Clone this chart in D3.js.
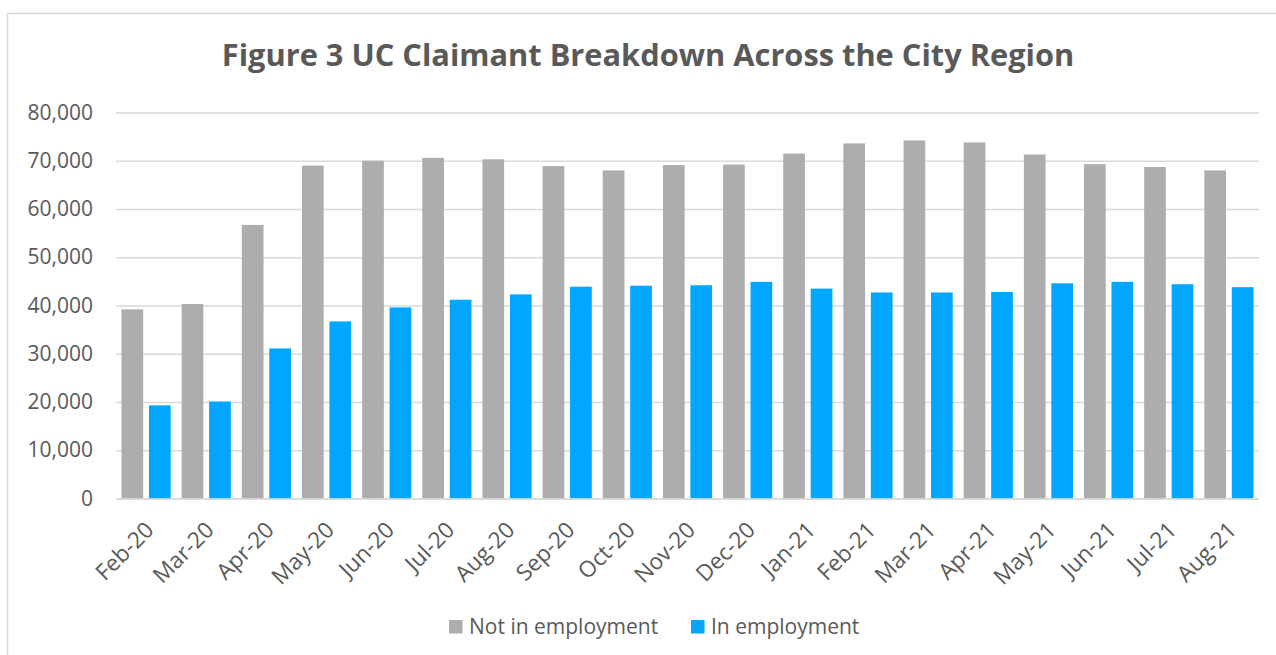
<!DOCTYPE html>
<html>
<head>
<meta charset="utf-8">
<script src="https://cdn.jsdelivr.net/npm/d3@7/dist/d3.min.js"></script>
<style>
    html, body { margin: 0; padding: 0; background: #fff; }
    svg { display: block; font-family: "Open Sans", sans-serif; }
</style>
</head>
<body>
<div id="chart"></div>
<script>
// months on the x axis
var months = ["Feb-20", "Mar-20", "Apr-20", "May-20", "Jun-20", "Jul-20", "Aug-20",
    "Sep-20", "Oct-20", "Nov-20", "Dec-20", "Jan-21", "Feb-21", "Mar-21", "Apr-21",
    "May-21", "Jun-21", "Jul-21", "Aug-21"];

// claimants not in employment
var notInEmployment = [39200, 40300, 56700, 69000, 70000, 70600, 70300,
    68900, 68000, 69100, 69200, 71500, 73600, 74200, 73800,
    71300, 69300, 68700, 68000];

// claimants in employment
var inEmployment = [19300, 20100, 31100, 36700, 39600, 41200, 42300,
    43900, 44100, 44200, 44900, 43500, 42700, 42700, 42800,
    44600, 44900, 44400, 43800];

var seriesNames = ["Not in employment", "In employment"];
var yTicks = [0, 10000, 20000, 30000, 40000, 50000, 60000, 70000, 80000];

window.onload = function()
{
    main();
};

function main()
{
    var width = 1276,
        height = 655,
        colours = ["#ADADAD", "#00A6FF"],
        textColour = "#595959",
        plot = { left: 116, right: 1259, top: 112.5, bottom: 498.5 },

        svg = d3.select("#chart").append("svg")
            .attr("width", width)
            .attr("height", height);

    // chart frame
    svg.append("rect")
        .attr("x", 7.5)
        .attr("y", 13.5)
        .attr("width", 1290)
        .attr("height", 700)
        .attr("fill", "none")
        .attr("stroke", "#D9D9D9")
        .attr("stroke-width", 1.5);

    // title, fitted to the width it has in the original
    var title = svg.append("text")
        .attr("x", 648)
        .attr("y", 66)
        .attr("text-anchor", "middle")
        .attr("fill", textColour)
        .attr("font-weight", "bold")
        .attr("font-size", 28)
        .text("Figure 3 UC Claimant Breakdown Across the City Region");
    var tw = title.node().getComputedTextLength();
    title.attr("font-size", 28 * 853 / tw);

    var x0 = d3.scaleBand()
            .domain(months)
            .range([plot.left, plot.right])
            .paddingInner(0)
            .paddingOuter(0),
        x1 = d3.scaleBand()
            .domain([0, 1])
            .range([0, x0.bandwidth()])
            .paddingInner(0.21)
            .paddingOuter(0.2),
        y = d3.scaleLinear()
            .domain([0, 80000])
            .range([plot.bottom, plot.top]);

    // gridlines
    var grid = d3.axisLeft(y)
        .tickValues(yTicks)
        .tickSize(-(plot.right - plot.left))
        .tickFormat("");
    svg.append("g")
        .attr("transform", "translate(" + plot.left + ",0)")
        .call(grid)
        .call(function(g) {
            g.select(".domain").remove();
            g.selectAll("line").attr("stroke", "#D9D9D9").attr("stroke-width", 1.3);
        });

    // y axis labels
    var yAxis = d3.axisLeft(y)
        .tickValues(yTicks)
        .tickSize(0)
        .tickPadding(23)
        .tickFormat(d3.format(","));
    svg.append("g")
        .attr("transform", "translate(" + plot.left + ",0)")
        .call(yAxis)
        .call(function(g) {
            g.select(".domain").remove();
            g.selectAll("text")
                .attr("fill", textColour)
                .attr("font-size", 21)
                .attr("font-family", "Open Sans, sans-serif");
        });

    // bars
    var series = [notInEmployment, inEmployment];
    var groups = svg.append("g").selectAll("g")
        .data(months)
        .enter()
        .append("g")
        .attr("transform", function(d) { return "translate(" + x0(d) + ",0)"; });

    groups.selectAll("rect")
        .data(function(d, i) {
            return series.map(function(s, k) { return { k: k, value: s[i] }; });
        })
        .enter()
        .append("rect")
        .attr("x", function(d) { return x1(d.k); })
        .attr("width", x1.bandwidth())
        .attr("y", function(d) { return y(d.value); })
        .attr("height", function(d) { return y(0) - y(d.value); })
        .attr("fill", function(d) { return colours[d.k]; });

    // x axis line
    svg.append("line")
        .attr("x1", plot.left)
        .attr("x2", plot.right)
        .attr("y1", y(0) + 0.5)
        .attr("y2", y(0) + 0.5)
        .attr("stroke", "#D9D9D9")
        .attr("stroke-width", 1.5);

    // rotated month labels
    svg.append("g").selectAll("text")
        .data(months)
        .enter()
        .append("text")
        .attr("transform", function(d) {
            var cx = x0(d) + x0.bandwidth() / 2;
            return "translate(" + (cx + 9) + "," + (plot.bottom + 33) + ") rotate(-45)";
        })
        .attr("text-anchor", "end")
        .attr("fill", textColour)
        .attr("font-size", 22.5)
        .text(function(d) { return d; });

    // legend
    var legendX = [449, 691];
    var legend = svg.append("g").selectAll("g")
        .data(seriesNames)
        .enter()
        .append("g")
        .attr("transform", function(d, i) { return "translate(" + legendX[i] + ",620)"; });

    legend.append("rect")
        .attr("width", 13.5)
        .attr("height", 13.5)
        .attr("fill", function(d, i) { return colours[i]; });

    legend.append("text")
        .attr("x", 20)
        .attr("y", 13.5)
        .attr("fill", textColour)
        .attr("font-size", 21)
        .text(function(d) { return d; });
}
</script>
</body>
</html>
